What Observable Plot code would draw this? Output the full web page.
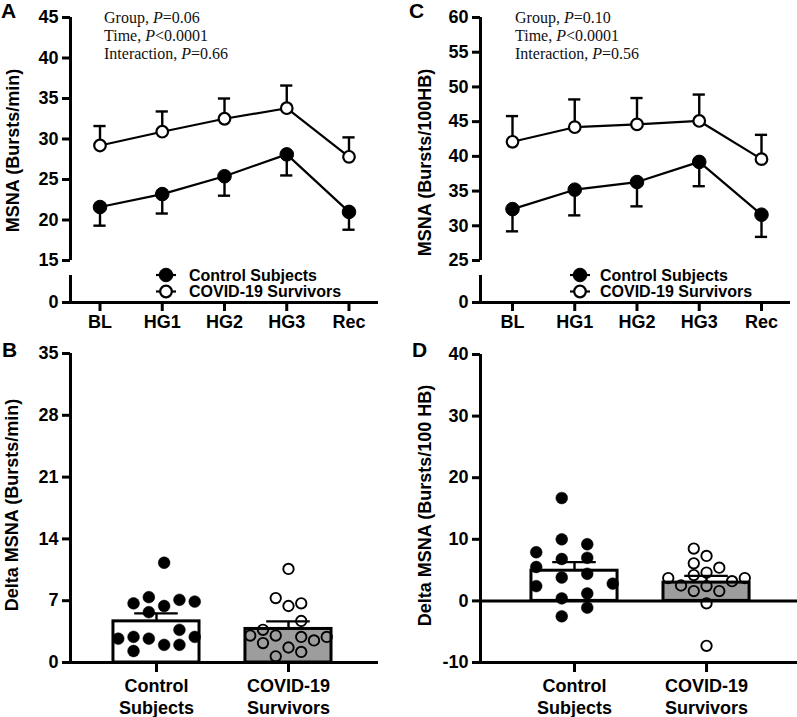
<!DOCTYPE html>
<html><head><meta charset="utf-8">
<script src="https://cdn.jsdelivr.net/npm/d3@7"></script>
<script src="https://cdn.jsdelivr.net/npm/@observablehq/plot@0.6"></script>
<style>
body{margin:0;background:#fff;}
#fig{position:relative;width:797px;height:717px;overflow:hidden;background:#fff;}
.panel{position:absolute;}
#overlay{position:absolute;left:0;top:0;pointer-events:none;}
</style></head><body><div id="fig"></div>
<script>
// ---------- data ----------
const timepoints = ["BL", "HG1", "HG2", "HG3", "Rec"];
const groupNames = ["Control Subjects", "COVID-19 Survivors"];
const groupTickLabels = ["Control\nSubjects", "COVID-19\nSurvivors"];

// Panel A: MSNA burst frequency (bursts/min), mean and SEM
const freqCtrlMean = [21.6, 23.2, 25.4, 28.1, 21.0];
const freqCtrlSem = [2.3, 2.4, 2.4, 2.6, 2.2];
const freqCovidMean = [29.2, 30.9, 32.5, 33.8, 27.8];
const freqCovidSem = [2.4, 2.5, 2.5, 2.8, 2.4];

// Panel C: MSNA burst incidence (bursts/100HB), mean and SEM
const incCtrlMean = [32.4, 35.2, 36.3, 39.2, 31.6];
const incCtrlSem = [3.2, 3.7, 3.5, 3.5, 3.2];
const incCovidMean = [42.1, 44.2, 44.6, 45.1, 39.6];
const incCovidSem = [3.7, 4.0, 3.8, 3.8, 3.5];

// Panel B: delta MSNA (bursts/min), individual values, bar mean, SEM
const deltaFreqCtrl = [11.3, 6.7, 7.4, 6.4, 7.1, 6.9, 5.7, 3.7, 2.7, 2.9, 2.7, 2.9, 1.3, 2.0, 2.0];
const deltaFreqCtrlLane = [0.6, -1.8, -0.6, 0.6, 1.8, 3, -0.6, 1.8, -3, -1.8, -0.6, 3, -1.8, 0.6, 1.8];
const deltaFreqCovid = [10.6, 7.3, 6.4, 6.7, 4.7, 3.7, 3.05, 3.05, 2.9, 2.9, 2.2, 2.5, 1.7, 1.2, 0.7];
const deltaFreqCovidLane = [0, -1, 0, 1, 1, -2, -3, -1, 1, 3, -2, 2, 0, 1, -1];
const deltaFreqMean = [4.66, 3.8];
const deltaFreqSem = [0.9, 0.86];

// Panel D: delta MSNA (bursts/100 HB)
const deltaIncCtrl = [16.7, 10.0, 7.9, 9.2, 6.8, 7.0, 5.5, 3.8, 4.4, 2.4, 2.8, 1.2, 0.4, -1.1, -2.5];
const deltaIncCtrlLane = [-1, -1, -3, 1, -1, 1, -3, -1, 1, -3, 3, 1, -1, 1, -1];
const deltaIncCovid = [8.5, 7.3, 6.1, 5.4, 4.2, 4.6, 3.7, 3.7, 3.2, 2.5, 1.6, 2.4, 1.6, -0.4, -7.3];
const deltaIncCovidLane = [-1, 0, -1, 1, -1, 0, -3, 3, 2, -2, -1, 0, 1, 0, 0];
const deltaIncMean = [4.9, 2.97];
const deltaIncSem = [1.4, 1.1];

// ---------- layout / style ----------
const FONT = '"Liberation Sans", Arial, Helvetica, sans-serif';
const SERIF = '"Liberation Serif", "Times New Roman", serif';
const GRAY = "#9d9d9d";
const AX = 3;
const ERR = 2.4;
const laneStep = 0.0966;
const fig = document.getElementById("fig");

function place(node, left, top) {
  const d = document.createElement("div");
  d.className = "panel";
  d.style.left = left + "px";
  d.style.top = top + "px";
  d.appendChild(node);
  fig.appendChild(d);
}

function timePanel({meanC, semC, meanV, semV, xDomain, yDomain, yRange, yTicks, axisBreak, width, marginLeft, marginRight, label, labelDx, labelDy}) {
  const rows = [
    ...meanC.map((m, i) => ({i, mean: m, end: m - semC[i], g: groupNames[0]})),
    ...meanV.map((m, i) => ({i, mean: m, end: m + semV[i], g: groupNames[1]}))
  ];
  const capHalf = 0.098;
  return Plot.plot({
    width, height: 340, marginLeft, marginRight, marginTop: 17, marginBottom: 38,
    style: {fontFamily: FONT, fontWeight: "bold", fontSize: "18px", background: "transparent", overflow: "visible", color: "black"},
    x: {type: "linear", domain: xDomain},
    y: {type: "linear", domain: yDomain, range: yRange},
    marks: [
      Plot.axisY({ticks: yTicks, tickSize: 8, tickPadding: 4, strokeWidth: AX, fontSize: 18, fontWeight: "bold", label: null, tickFormat: d => String(d)}),
      Plot.axisX({ticks: [0, 1, 2, 3, 4], tickSize: 9, tickPadding: 4, strokeWidth: AX, fontSize: 18, fontWeight: "bold", label: null, tickFormat: i => timepoints[i]}),
      Plot.ruleX([xDomain[0]], {y1: yDomain[1], y2: yDomain[2], strokeWidth: AX}),
      Plot.ruleX([xDomain[0]], {y1: 0, y2: axisBreak, strokeWidth: AX}),
      Plot.ruleY([0], {strokeWidth: AX}),
      Plot.ruleX(rows, {x: "i", y1: "mean", y2: "end", strokeWidth: ERR}),
      Plot.ruleY(rows, {y: "end", x1: d => d.i - capHalf, x2: d => d.i + capHalf, strokeWidth: ERR}),
      Plot.line(rows, {x: "i", y: "mean", z: "g", stroke: "black", strokeWidth: 2.2}),
      Plot.dot(rows.filter(d => d.g === groupNames[0]), {x: "i", y: "mean", r: 6.8, fill: "black", stroke: "black", strokeWidth: 1}),
      Plot.dot(rows.filter(d => d.g === groupNames[1]), {x: "i", y: "mean", r: 5.8, fill: "white", stroke: "black", strokeWidth: 2.2}),
      Plot.text([label], {frameAnchor: "left", text: d => d, rotate: -90, textAnchor: "middle", lineAnchor: "middle", dx: labelDx, dy: labelDy, fontSize: 18, fontWeight: "bold"})
    ]
  });
}

function deltaPanel({ctrl, ctrlLane, cov, covLane, means, sems, xDomain, yDomain, yTicks, width, marginLeft, marginRight, marginTop, hRules, label, labelDx, labelDy}) {
  const pts = [
    ...ctrl.map((v, k) => ({x: 0 + ctrlLane[k] * laneStep, v, g: 0})),
    ...cov.map((v, k) => ({x: 1 + covLane[k] * laneStep, v, g: 1}))
  ];
  const bars = means.map((m, i) => ({i, mean: m, top: m + sems[i]}));
  const hw = 0.326, capHalf = 0.165;
  return Plot.plot({
    width, height: 377, marginLeft, marginRight, marginTop, marginBottom: 55,
    style: {fontFamily: FONT, fontWeight: "bold", fontSize: "18px", background: "transparent", overflow: "visible", color: "black"},
    x: {type: "linear", domain: xDomain},
    y: {type: "linear", domain: yDomain},
    marks: [
      Plot.axisY({ticks: yTicks, tickSize: 8, tickPadding: 4, strokeWidth: AX, fontSize: 18, fontWeight: "bold", label: null, tickFormat: d => String(d)}),
      Plot.axisX({ticks: [0, 1], tickSize: 10, tickPadding: 5, strokeWidth: AX, fontSize: 18, fontWeight: "bold", lineHeight: 1.17, label: null, tickFormat: i => groupTickLabels[i]}),
      Plot.ruleX([xDomain[0]], {y1: yDomain[0], y2: yDomain[1], strokeWidth: AX}),
      Plot.rectY(bars.filter(d => d.i === 0), {x1: d => d.i - hw, x2: d => d.i + hw, y1: 0, y2: "mean", fill: "white", stroke: "black", strokeWidth: AX}),
      Plot.rectY(bars.filter(d => d.i === 1), {x1: d => d.i - hw, x2: d => d.i + hw, y1: 0, y2: "mean", fill: GRAY, stroke: "black", strokeWidth: AX}),
      Plot.ruleY(hRules, {strokeWidth: AX}),
      Plot.ruleX(bars, {x: "i", y1: "mean", y2: "top", strokeWidth: ERR}),
      Plot.ruleY(bars, {y: "top", x1: d => d.i - capHalf, x2: d => d.i + capHalf, strokeWidth: ERR}),
      Plot.dot(pts.filter(d => d.g === 0), {x: "x", y: "v", r: 5.9, fill: "black", stroke: "black", strokeWidth: 0.5}),
      Plot.dot(pts.filter(d => d.g === 1), {x: "x", y: "v", r: 5.2, fill: "none", stroke: "black", strokeWidth: 1.9}),
      Plot.text([label], {frameAnchor: "left", text: d => d, rotate: -90, textAnchor: "middle", lineAnchor: "middle", dx: labelDx, dy: labelDy, fontSize: 18, fontWeight: "bold"})
    ]
  });
}

place(timePanel({
  meanC: freqCtrlMean, semC: freqCtrlSem, meanV: freqCovidMean, semV: freqCovidSem,
  xDomain: [-0.474, 4.474], yDomain: [0, 15, 45], yRange: [302, 260, 17],
  yTicks: [0, 15, 20, 25, 30, 35, 40, 45], axisBreak: 15 * 27 / 42,
  width: 400, marginLeft: 70, marginRight: 22,
  label: "MSNA (Bursts/min)", labelDx: -57, labelDy: -9.5
}), 0, 0);

place(timePanel({
  meanC: incCtrlMean, semC: incCtrlSem, meanV: incCovidMean, semV: incCovidSem,
  xDomain: [-0.514, 4.466], yDomain: [0, 25, 60], yRange: [302, 260, 17],
  yTicks: [0, 25, 30, 35, 40, 45, 50, 55, 60], axisBreak: 25 * 27 / 42,
  width: 397, marginLeft: 80, marginRight: 7,
  label: "MSNA (Bursts/100HB)", labelDx: -55, labelDy: 2.5
}), 400, 0);

place(deltaPanel({
  ctrl: deltaFreqCtrl, ctrlLane: deltaFreqCtrlLane, cov: deltaFreqCovid, covLane: deltaFreqCovidLane,
  means: deltaFreqMean, sems: deltaFreqSem,
  xDomain: [-0.6515, 1.682], yDomain: [0, 35], yTicks: [0, 7, 14, 21, 28, 35],
  width: 400, marginLeft: 70, marginRight: 22, marginTop: 13, hRules: [0],
  label: "Delta MSNA (Bursts/min)", labelDx: -58, labelDy: -3
}), 0, 340);

place(deltaPanel({
  ctrl: deltaIncCtrl, ctrlLane: deltaIncCtrlLane, cov: deltaIncCovid, covLane: deltaIncCovidLane,
  means: deltaIncMean, sems: deltaIncSem,
  xDomain: [-0.712, 1.689], yDomain: [-10, 40], yTicks: [-10, 0, 10, 20, 30, 40],
  width: 397, marginLeft: 80, marginRight: 0, marginTop: 14, hRules: [-10, 0],
  label: "Delta MSNA (Bursts/100 HB)", labelDx: -55, labelDy: -3
}), 400, 340);

// ---------- annotations: panel letters, statistics, legends ----------
const ov = d3.select(fig).append("svg").attr("id", "overlay")
  .attr("width", 797).attr("height", 717).style("font-family", FONT);

[["A", 1, 18], ["C", 409, 18], ["B", 2, 357], ["D", 412, 357]].forEach(([t, x, y]) =>
  ov.append("text").attr("x", x).attr("y", y).attr("font-size", 21).attr("font-weight", "bold").text(t));

const statsA = [["Group, ", "=0.06"], ["Time, ", "<0.0001"], ["Interaction, ", "=0.66"]];
const statsC = [["Group, ", "=0.10"], ["Time, ", "<0.0001"], ["Interaction, ", "=0.56"]];
function stats(lines, x) {
  lines.forEach(([a, b], k) => {
    const t = ov.append("text").attr("x", x).attr("y", 22.5 + 18 * k)
      .attr("font-family", SERIF).attr("font-size", 16).attr("fill", "#111");
    t.append("tspan").text(a);
    t.append("tspan").attr("font-style", "italic").text("P");
    t.append("tspan").text(b);
  });
}
stats(statsA, 104);
stats(statsC, 515);

function legend(cx, textX) {
  groupNames.forEach((name, k) => {
    const y = 275 + 16.5 * k;
    ov.append("line").attr("x1", cx - 10).attr("x2", cx + 10).attr("y1", y).attr("y2", y)
      .attr("stroke", "black").attr("stroke-width", 2.2);
    ov.append("circle").attr("cx", cx).attr("cy", y).attr("r", k ? 5.8 : 6.8)
      .attr("fill", k ? "white" : "black").attr("stroke", "black").attr("stroke-width", k ? 2.2 : 1);
    ov.append("text").attr("x", textX).attr("y", y + 5.5).attr("font-size", 16)
      .attr("font-weight", "bold").text(name);
  });
}
legend(166, 189);
legend(580, 600);
</script></body></html>
